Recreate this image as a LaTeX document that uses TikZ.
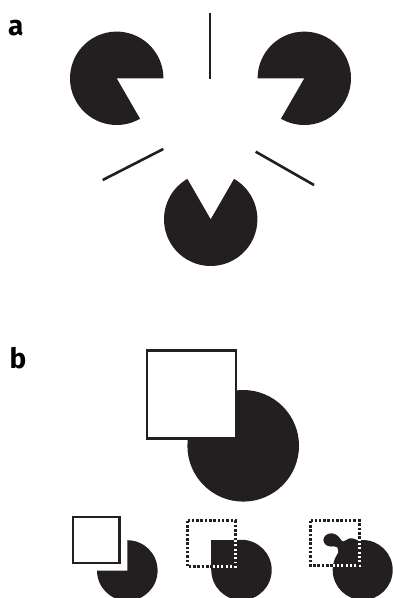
\documentclass[tikz,border=0pt]{standalone}
\usepackage{fontspec}
\setmainfont{Fira Sans}
\definecolor{ink}{HTML}{231F20}
\tikzset{
  blob/.style={fill=ink, draw=none},
  bar/.style={draw=ink, line width=2.6pt},
  framebox/.style={draw=ink, fill=white, line width=2.7pt},
  dotwhite/.style={draw=white, line width=3.2pt},
  dotblack/.style={draw=ink, line width=3.2pt, dash pattern=on 2.5pt off 1.8pt},
  panel/.style={font=\fontsize{28}{30}\selectfont\bfseries, text=black, inner sep=0pt, anchor=base west}
}
\begin{document}
\begin{tikzpicture}[x=1pt,y=-1pt]
\useasboundingbox (0,0) rectangle (392,598);
% labels
\node[panel] (la) at (8,35) {a};
\node[panel] (lb) at (9.5,368.3) {b};
% --- panel a: Kanizsa triangle
\fill[blob] (116.7,78.3) -- ++(60:46.7) arc[start angle=60, end angle=360, radius=46.7] -- cycle;
\fill[blob] (304.3,78.3) -- ++(180:46.7) arc[start angle=180, end angle=480, radius=46.7] -- cycle;
\fill[blob] (210.7,219.3) -- ++(300:46.7) arc[start angle=300, end angle=600, radius=46.7] -- cycle;
\draw[bar] (210,13.3) -- (210,79);
\draw[bar] (102.7,180) -- (163.3,149);
\draw[bar] (255.7,151.7) -- (314,185);
% --- panel b: big occlusion
\fill[blob] (243.2,445.8) circle[radius=55.8];
\draw[framebox] (147,350.3) rectangle (236,438.8);
% small 1: square with notched disc
\fill[blob] (127.3,570.5) -- ++(270:30.3) arc[start angle=270, end angle=540, radius=30.3] -- cycle;
\draw[framebox] (73,517) rectangle (119.3,563);
% small 2: disc completed with square corner
\fill[blob] (241.5,570) circle[radius=30.2];
\fill[blob] (211.3,539.8) rectangle (241.5,570);
\draw[dotwhite] (187.5,520.8) rectangle (235.2,566.8);
\draw[dotblack] (187.5,520.8) rectangle (235.2,566.8);
% small 3: disc completed with blob
\fill[blob] (362.7,570) circle[radius=30];
\fill[blob] plot[smooth cycle, tension=0.6] coordinates {
  (336,562) (338.3,553) (337,547) (331,546.5) (326,545) (323.3,540)
  (326,535) (332,533.3) (338,536) (343,541.5) (349,538.5) (356,539.5)
  (362,546) (352,562)};
\draw[dotwhite] (310.8,520.8) rectangle (359.2,565.8);
\draw[dotblack] (310.8,520.8) rectangle (359.2,565.8);
\end{tikzpicture}
\end{document}
